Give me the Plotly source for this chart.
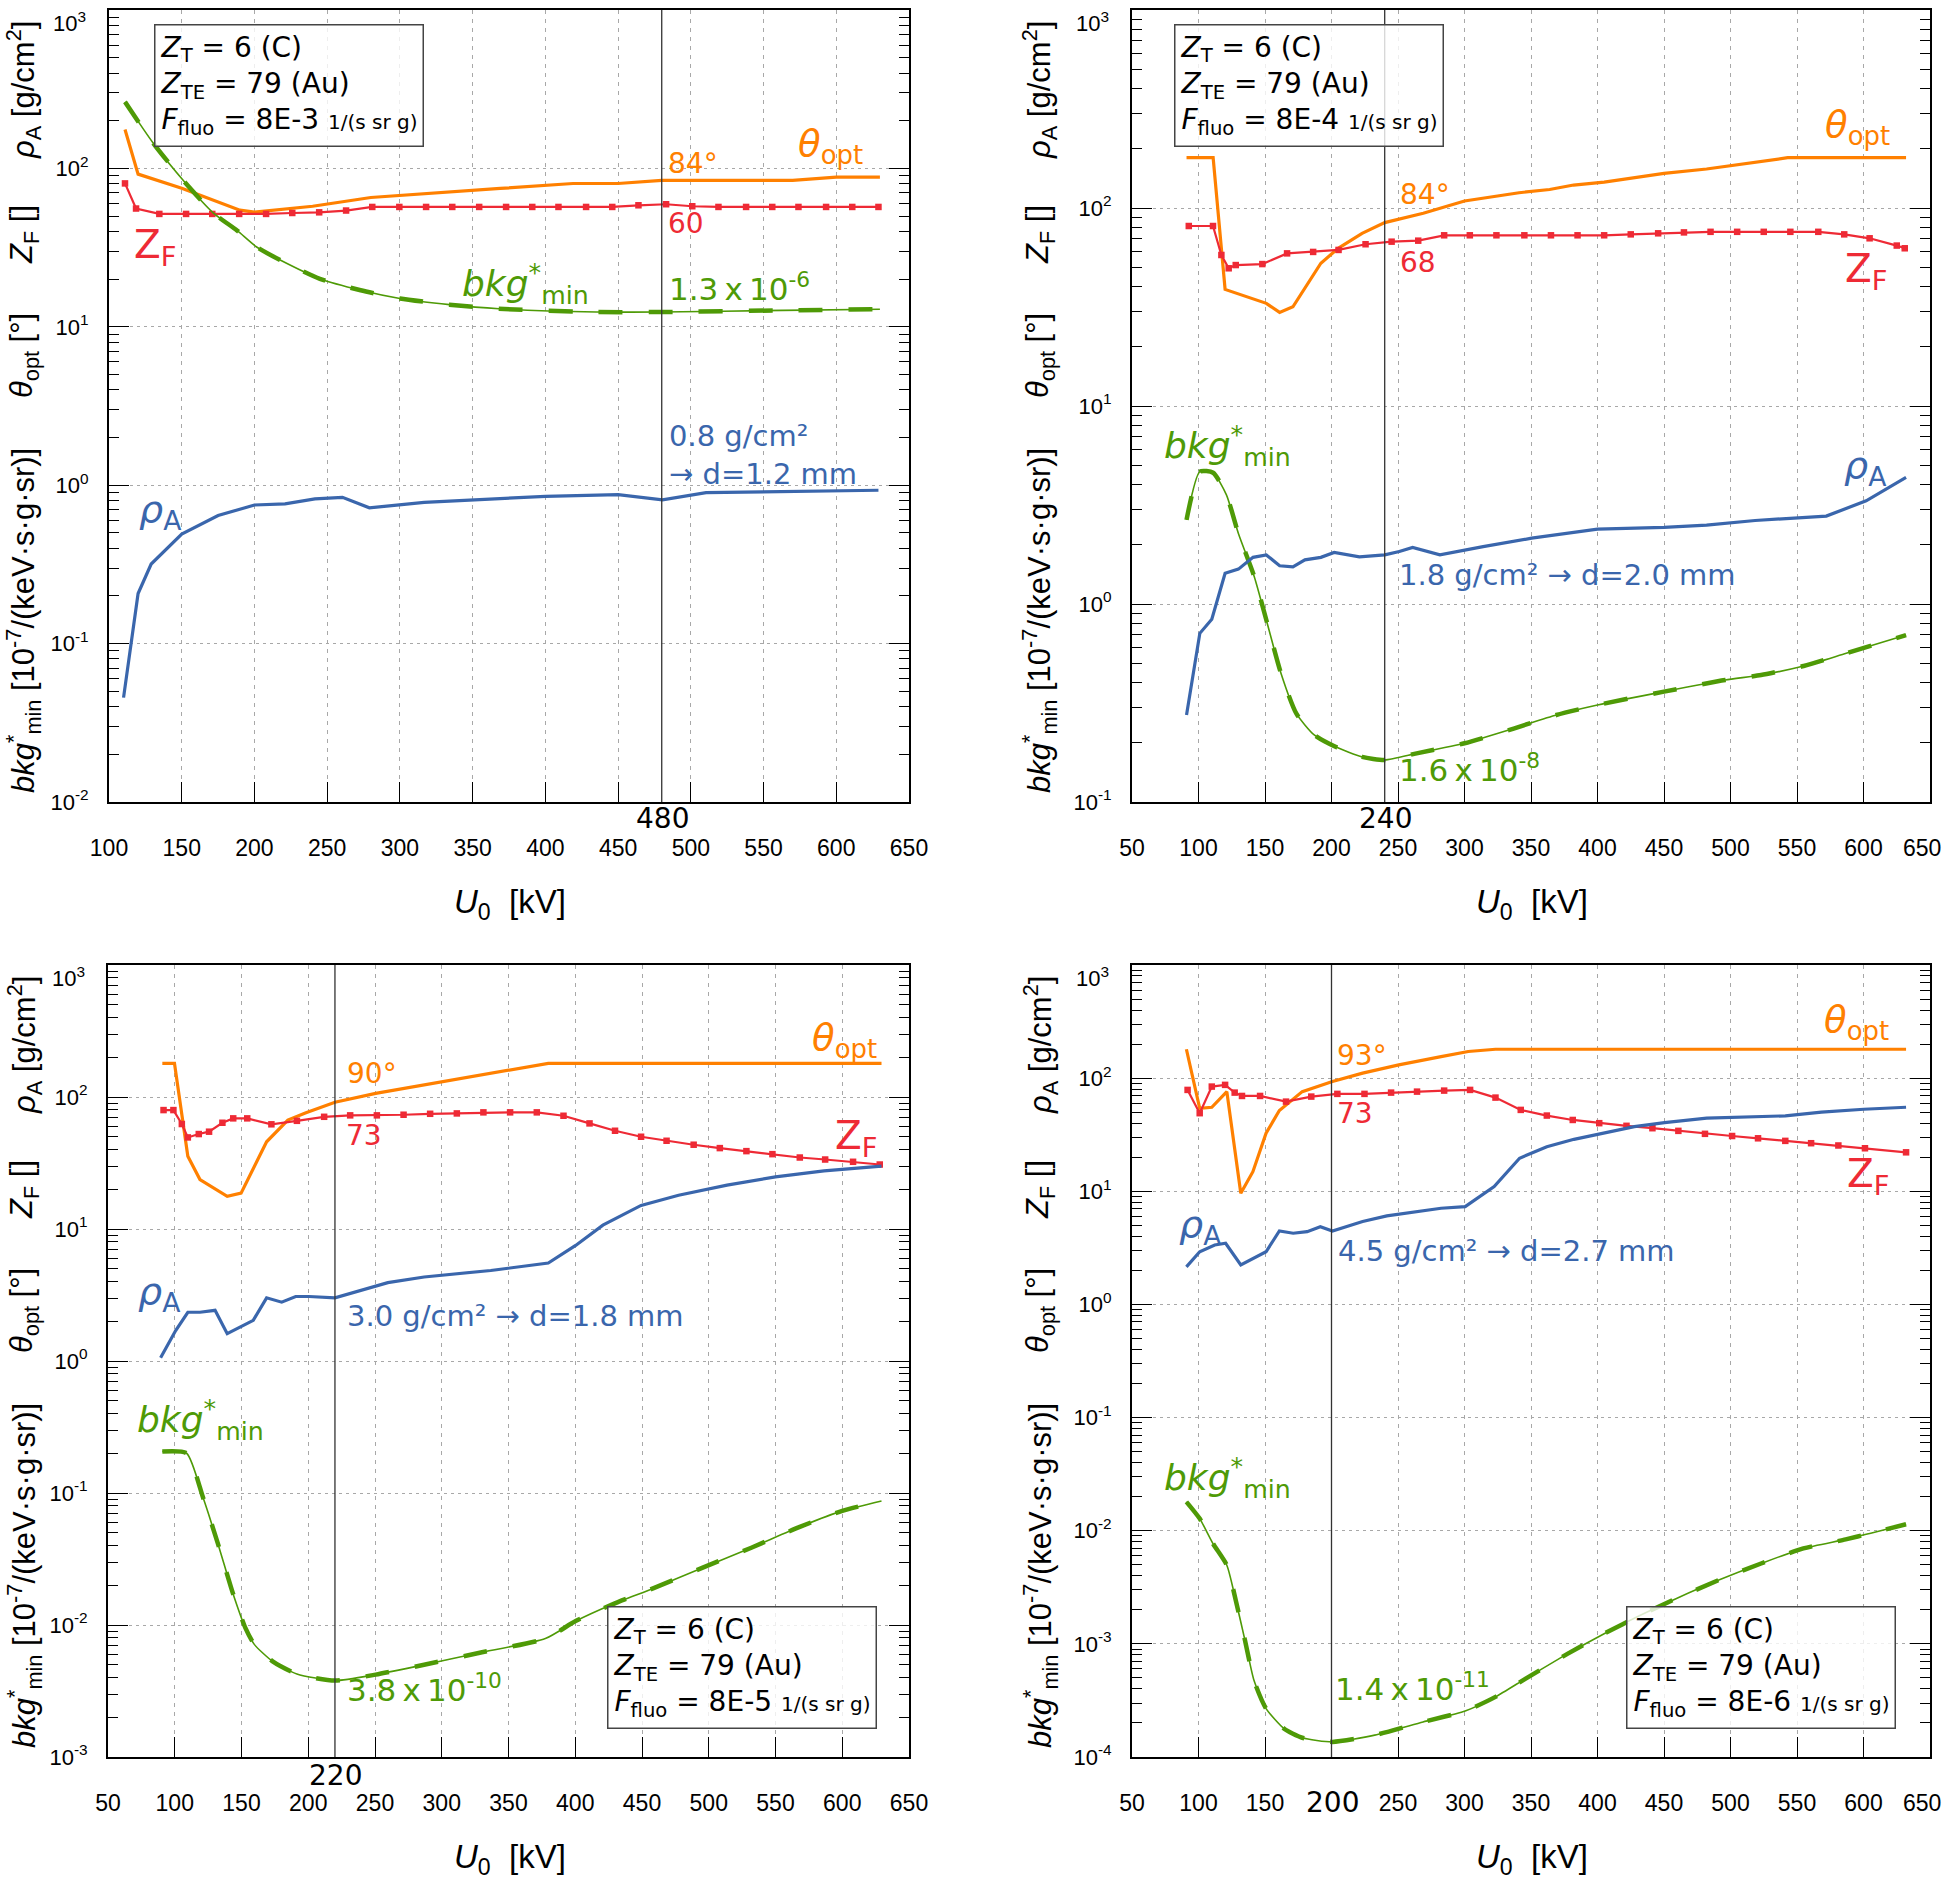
import plotly.graph_objects as go

W, H = 1947, 1883

# ---------------- data ----------------
# Panel 1 : Ffluo = 8E-3
p1_theta_U = [111, 120, 150, 190, 200, 240, 280, 334, 369, 419, 450, 480, 570, 600, 630]
p1_theta = [176, 92, 75, 54.5, 53, 57.7, 65.5, 70.5, 74.7, 80.3, 80.3, 84, 84, 88, 88]
p1_zf_U = [111, 118.6, 134.6, 153, 171, 189.5, 208, 226, 244.5, 263, 281, 299.6, 318, 336, 354.5,
           373, 391, 409, 428, 446, 464, 483, 501, 519, 538, 556, 574, 593, 611, 629]
p1_zf = [80.4, 55.8, 51.6, 51.6, 51.6, 51.6, 51.6, 52.3, 52.8, 54.2, 57.1, 57.1, 57.1, 57.1, 57.1,
         57.1, 57.1, 57.1, 57.1, 57.1, 58.5, 59.4, 57.7, 57.1, 57.1, 57.1, 57.1, 57.1, 57.1, 57.1]
p1_bkg_U = [111, 130.5, 152, 172, 188, 201.5, 218, 245, 273, 300, 334, 368, 435, 480, 563, 630]
p1_bkg = [263, 144, 82, 52, 40.6, 31.9, 26.3, 20.1, 17, 15.1, 13.8, 13.0, 12.4, 12.4, 12.7, 12.9]
p1_rho_U = [110, 120, 129, 150, 175, 200, 221, 241.6, 260.5, 279, 316.7, 358.4, 400, 450, 480.5, 510.5, 629]
p1_rho = [0.0456, 0.207, 0.318, 0.492, 0.643, 0.75, 0.762, 0.819, 0.839, 0.72, 0.78, 0.819, 0.851,
          0.873, 0.807, 0.898, 0.929]

# Panel 2 : Ffluo = 8E-4
p2_theta_U = [91, 111, 120, 151, 161, 171, 192, 205, 223, 240, 269, 300, 341, 364, 382, 405, 450, 482, 543, 632]
p2_theta = [179.5, 179.5, 38.8, 33, 29.7, 31.7, 52.6, 62.6, 74.5, 84.4, 94, 108.5, 119.4, 124, 130.6,
            135, 149.6, 157.4, 179.5, 179.5]
p2_zf_U = [92.7, 110.9, 117.2, 122.7, 128, 148, 166.6, 186.2, 205.3, 225.6, 245.2, 265.2, 284.7, 304,
           324, 345, 365, 385, 405, 425, 445.6, 465, 485, 505, 525, 545, 566, 585.5, 604.6, 625, 631]
p2_zf = [81.1, 81.1, 57.9, 49.6, 51.5, 52.1, 59, 60, 61.4, 65.6, 67.6, 68.4, 72.8, 72.8, 72.8, 72.8,
         72.8, 72.8, 72.8, 73.6, 74.5, 75.3, 75.8, 75.8, 75.8, 75.8, 75.8, 73.6, 70.3, 64.6, 62.6]
p2_bkg_U = [91, 101, 111, 121, 130, 142, 151, 162, 173.5, 187, 203, 223, 240, 264, 300, 337, 369, 400,
            450, 496, 523, 555, 587, 632]
p2_bkg = [2.66, 4.66, 4.6, 3.56, 2.27, 1.37, 0.83, 0.447, 0.28, 0.218, 0.19, 0.169, 0.163, 0.176,
          0.198, 0.235, 0.275, 0.309, 0.361, 0.413, 0.438, 0.486, 0.564, 0.697]
p2_rho_U = [91, 101, 110, 120, 130, 141, 151, 161, 171, 180, 192, 202, 221, 240, 251, 261, 281.5, 314,
            350.5, 400, 450, 482, 518.5, 572, 602, 632]
p2_rho = [0.275, 0.711, 0.838, 1.43, 1.5, 1.72, 1.77, 1.56, 1.54, 1.67, 1.72, 1.82, 1.73, 1.77, 1.84,
          1.93, 1.77, 1.95, 2.15, 2.39, 2.44, 2.5, 2.64, 2.78, 3.32, 4.36]

# Panel 3 : Ffluo = 8E-5
p3_theta_U = [90.7, 99.8, 109.8, 118.9, 139.3, 149.7, 168.8, 184.7, 198.3, 220, 250.5, 286.8, 332.2,
              354.9, 379.8, 629.4]
p3_theta = [180, 180, 35.6, 23.7, 17.7, 18.7, 45.8, 66.8, 76, 91.2, 106.6, 123, 148.6, 162, 180, 180]
p3_zf_U = [91.6, 99, 105.3, 109.8, 118, 125.7, 135.7, 143.8, 154.3, 172.4, 191.5, 211.9, 231.4, 251.4,
           271.4, 291.3, 311.3, 331.2, 351.2, 371.2, 391.2, 410.7, 429.8, 449.3, 468.4, 488.7, 508.3,
           528.2, 547.7, 568.2, 587.2, 608.1, 628.1]
p3_zf = [79.6, 79.6, 62.4, 49.4, 52.4, 54.6, 63.8, 68.9, 68.9, 62.1, 66, 70.8, 72.6, 72.6, 73.4, 74.6,
         75.1, 76.5, 76.5, 76.5, 72.1, 63.1, 55.5, 50, 46.6, 43.5, 41, 38.9, 36.9, 34.8, 33.6, 32.3, 30.8]
p3_bkg_U = [90.7, 108.9, 121.2, 132.5, 143.8, 152.9, 159.7, 173.3, 191.5, 220, 250.5, 286.8, 327.6,
            377.6, 400.3, 427.5, 459.2, 495.5, 531.9, 568.2, 600, 629.4]
p3_bkg = [0.206, 0.2, 0.0923, 0.0408, 0.0171, 0.0095, 0.0071, 0.0053, 0.00426, 0.00379, 0.00421,
          0.005, 0.00614, 0.00789, 0.0107, 0.0143, 0.0191, 0.0272, 0.0385, 0.0554, 0.0732, 0.0871]
p3_rho_U = [89.4, 100.7, 109.8, 118.9, 130.2, 139.3, 158.8, 168.8, 180.1, 190.6, 200.6, 220, 259.6,
            286.8, 336.7, 359.4, 379.8, 400.3, 420.7, 449.3, 477.4, 513.7, 550, 586.3, 629.4]
p3_rho = [1.06, 1.7, 2.34, 2.34, 2.42, 1.61, 2.03, 3.01, 2.79, 3.08, 3.08, 3.01, 3.92, 4.33, 4.85,
          5.2, 5.52, 7.51, 10.7, 15.1, 18, 21.5, 24.8, 27.6, 29.9]

# Panel 4 : Ffluo = 8E-6
p4_theta_U = [90.9, 100.9, 110, 121.3, 131.8, 140.9, 150.8, 160.8, 178, 200.7, 223.4, 250.6, 282.4,
              302.8, 323.3, 632]
p4_theta = [180, 54.2, 55.3, 76, 9.6, 14.9, 32.6, 51.7, 76, 93.3, 110.7, 131, 155, 172, 180, 180]
p4_zf_U = [91.8, 100.9, 110, 120, 127.2, 132.7, 146.3, 165.8, 184.8, 204.4, 224.8, 244.8, 264.3,
           284.7, 304.2, 323.3, 342.3, 361.9, 381.4, 401.3, 421.8, 441.3, 460.8, 480.8, 501.2, 520.7,
           541.2, 560.6, 581.1, 601.1, 632]
p4_zf = [78.7, 49, 84.2, 87.2, 74.5, 69.6, 69.6, 62, 68.7, 72.6, 72.6, 74.5, 76, 77.6, 78.7, 67.3,
         52.4, 46.7, 42.7, 40, 37.9, 36.1, 34.2, 32.2, 30.8, 29.4, 27.9, 26.6, 25.4, 24, 22.1]
p4_bkg_U = [90.9, 100.9, 110.9, 121.3, 128, 134.9, 141.7, 150.8, 164.4, 178, 200.7, 232.5, 268.8,
            300.5, 323.3, 346, 377.7, 405, 432.2, 459.4, 491.2, 523, 554.8, 586.6, 604.7, 632]
p4_bkg = [0.018, 0.0128, 0.0077, 0.00495, 0.00243, 0.00108, 0.000476, 0.000268, 0.000178, 0.000148,
          0.000136, 0.000156, 0.000204, 0.000255, 0.00034, 0.000493, 0.00082, 0.00123, 0.00179,
          0.00252, 0.00366, 0.00513, 0.00697, 0.00838, 0.00946, 0.0114]
p4_rho_U = [90.9, 100.9, 112.2, 120.4, 131.8, 150.8, 160.8, 171.2, 181.7, 191.6, 200.7, 223.4, 241.6,
            259.7, 282.4, 300.5, 322.3, 341.4, 361.9, 382.3, 405, 427.7, 450.4, 482.1, 541.2, 568.4,
            600.2, 632]
p4_rho = [2.15, 2.92, 3.35, 3.47, 2.23, 2.92, 4.46, 4.26, 4.4, 4.87, 4.46, 5.4, 6.06, 6.47, 7.08,
          7.32, 11, 19.6, 24.8, 28.8, 33, 37.3, 40.5, 44.3, 46.4, 50, 53.1, 55.3]

ffluo = ["8E-3", "8E-4", "8E-5", "8E-6"]
u_opt = [480, 240, 220, 200]
theta_opt_lbl = ["84°", "84°", "90°", "93°"]
zf_opt_lbl = ["60", "68", "73", "73"]
rho_opt_lbl = ["0.8 g/cm²<br>→ d=1.2 mm", "1.8 g/cm² → d=2.0 mm", "3.0 g/cm² → d=1.8 mm",
               "4.5 g/cm² → d=2.7 mm"]
bkg_opt_lbl = ["1.3\u2009x\u200910<sup>-6</sup>", "1.6\u2009x\u200910<sup>-8</sup>",
               "3.8\u2009x\u200910<sup>-10</sup>", "1.4\u2009x\u200910<sup>-11</sup>"]
x_ticks_p1 = list(range(100, 651, 50))
x_ticks = list(range(50, 651, 50))

# ---------------- style ----------------
ORANGE = '#FF8000'
RED = '#EE2A35'
GREEN = '#4E9A06'
BLUE = '#3A66AC'
LBL = 'DejaVu Sans'
AX = 'Liberation Sans'

def px(x):
    return x / W

def py(y):
    return 1 - y / H

panels = [
    dict(xd=(109, 909), yd=(10, 802), xr=[100, 650], yr=(-2, 3), ticks=x_ticks_p1,
         data=(p1_theta_U, p1_theta, p1_zf_U, p1_zf, p1_bkg_U, p1_bkg, p1_rho_U, p1_rho)),
    dict(xd=(1132, 1930), yd=(10, 802), xr=[50, 650], yr=(-1, 3), ticks=x_ticks,
         data=(p2_theta_U, p2_theta, p2_zf_U, p2_zf, p2_bkg_U, p2_bkg, p2_rho_U, p2_rho)),
    dict(xd=(108, 909), yd=(965, 1757), xr=[50, 650], yr=(-3, 3), ticks=x_ticks,
         data=(p3_theta_U, p3_theta, p3_zf_U, p3_zf, p3_bkg_U, p3_bkg, p3_rho_U, p3_rho)),
    dict(xd=(1132, 1930), yd=(965, 1757), xr=[50, 650], yr=(-4, 3), ticks=x_ticks,
         data=(p4_theta_U, p4_theta, p4_zf_U, p4_zf, p4_bkg_U, p4_bkg, p4_rho_U, p4_rho)),
]

fig = go.Figure()
annotations = []
shapes = []

def ann(x, y, text, color='black', size=26, family=LBL, xanchor='center', yanchor='middle', **kw):
    d = dict(x=px(x), y=py(y), xref='paper', yref='paper', text=text, showarrow=False,
             font=dict(color=color, size=size, family=family), xanchor=xanchor, yanchor=yanchor)
    d.update(kw)
    annotations.append(d)

for i, p in enumerate(panels):
    n = '' if i == 0 else str(i + 1)
    xa, ya = 'x' + n, 'y' + n
    tU, tV, zU, zV, bU, bV, rU, rV = p['data']
    fig.add_trace(go.Scatter(x=tU, y=tV, xaxis=xa, yaxis=ya, mode='lines',
                             line=dict(color=ORANGE, width=3.2)))
    fig.add_trace(go.Scatter(x=zU, y=zV, xaxis=xa, yaxis=ya, mode='lines+markers',
                             line=dict(color=RED, width=2.2),
                             marker=dict(symbol='square', size=6.5, color=RED)))
    fig.add_trace(go.Scatter(x=bU, y=bV, xaxis=xa, yaxis=ya, mode='lines',
                             line=dict(color=GREEN, width=1.6, shape='spline', smoothing=0.6)))
    fig.add_trace(go.Scatter(x=bU, y=bV, xaxis=xa, yaxis=ya, mode='lines',
                             line=dict(color=GREEN, width=4.5, dash='24px,26px', shape='spline', smoothing=0.6)))
    fig.add_trace(go.Scatter(x=rU, y=rV, xaxis=xa, yaxis=ya, mode='lines',
                             line=dict(color=BLUE, width=3.2)))

    lo, hi = p['yr']
    major = [10.0 ** k for k in range(lo, hi + 1)]
    minor = [m * 10.0 ** k for k in range(lo, hi) for m in range(2, 10)]
    # the top decade label and the right-most x label are set as texts nudged inside the figure
    yticktext = [f'10<sup>{k}</sup>' if k < hi else '' for k in range(lo, hi + 1)]
    ticktext = [str(t) for t in p['ticks']]
    if i == 3:
        ticktext = ['' if t == 200 else str(t) for t in p['ticks']]
    if i in (1, 3):
        ticktext[-1] = ''
    fig.update_layout(**{
        'xaxis' + n: dict(domain=[px(p['xd'][0]), px(p['xd'][1])], range=p['xr'], anchor=ya,
                          automargin=False, ticklabeloverflow='allow',
                          tickmode='array', tickvals=p['ticks'], ticktext=ticktext,
                          ticks='inside', ticklen=20, tickwidth=1.4, tickcolor='black',
                          showline=True, linecolor='black', linewidth=2, mirror=True,
                          showgrid=True, gridcolor='#A8A8A8', gridwidth=1, griddash='4px,5px',
                          zeroline=False, ticklabelstandoff=24,
                          tickfont=dict(family=AX, size=23, color='black')),
        'yaxis' + n: dict(domain=[py(p['yd'][1]), py(p['yd'][0])], type='log', range=[lo, hi],
                          anchor=xa, automargin=False, ticklabeloverflow='allow',
                          tickmode='array', tickvals=major, ticktext=yticktext,
                          ticks='inside', ticklen=20, tickwidth=1.4, tickcolor='black',
                          minor=dict(tickmode='array', tickvals=minor, ticks='inside', ticklen=10,
                                     tickwidth=1.4, tickcolor='black', showgrid=False),
                          showline=True, linecolor='black', linewidth=2, mirror='allticks',
                          showgrid=True, gridcolor='#A8A8A8', gridwidth=1, griddash='3px,4px',
                          zeroline=False, ticklabelstandoff=14,
                          tickfont=dict(family=AX, size=22, color='black')),
    })
    shapes.append(dict(type='line', xref=xa, yref=ya + ' domain', x0=u_opt[i], x1=u_opt[i],
                       y0=0, y1=1, line=dict(color='#333333', width=1.3), layer='above'))

    x0, x1 = p['xd']
    top, bot = p['yd']
    # top decade label and right-most x label
    ann(x0 - 21, top + 12, f'10<sup>{hi}</sup>', size=22, family=AX, xanchor='right')
    if i in (1, 3):
        ann(x1 - 8, bot + 46, str(p['ticks'][-1]), size=23, family=AX)

    # axis titles
    ann((x0 + x1) / 2 + 1, top + 894, '<i>U</i><sub>0</sub>  [kV]', size=33, family=AX)
    tx = 24 if i in (0, 2) else 1040
    ann(tx, top + 80, '<i>ρ</i><sub>A</sub> [g/cm<sup>2</sup>]', size=31, family=AX, textangle=-90)
    ann(tx, top + 225, '<i>Z</i><sub>F</sub> []', size=31, family=AX, textangle=-90)
    ann(tx, top + 346, '<i>θ</i><sub>opt</sub> [°]', size=31, family=AX, textangle=-90)
    ann(tx, top + 611, '<i>bkg</i><sup>*</sup><sub>min</sub> [10<sup>-7</sup>/(keV·s·g·sr)]',
        size=31, family=AX, textangle=-90)

    # info box
    box = ('<i>Z</i><sub>T</sub> = 6 (C)<br><i>Z</i><sub>TE</sub> = 79 (Au)<br>'
           f'<i>F</i><sub>fluo</sub> = {ffluo[i]} <span style="font-size:20px">1/(s sr g)</span>')
    bpos = [(154, 24), (1174, 24), (607, 1606), (1626, 1606)][i]
    ann(bpos[0], bpos[1], box, size=28, xanchor='left', yanchor='top', align='left',
        bordercolor='#444444', borderwidth=1.5, borderpad=5, bgcolor='rgba(255,255,255,0.8)')

# curve labels (positions in pixels)
theta_pos = [(830, 146), (1857, 127), (844, 1040), (1856, 1022)]
thopt_pos = [(693, 163), (1425, 195), (372, 1073), (1362, 1055)]
zf_pos = [(155, 247), (1866, 271), (856, 1138), (1868, 1176)]
zfopt_pos = [(686, 223), (1418, 262), (364, 1135), (1355, 1113)]
rho_pos = [(160, 512), (1865, 467), (159, 1293), (1200, 1226)]
rhoopt_pos = [(667, 455), (1397, 575), (345, 1316), (1336, 1251)]
bkg_pos = [(525, 284), (1227, 446), (200, 1420), (1227, 1478)]
bkgopt_pos = [(667, 287), (1397, 768), (345, 1688), (1333, 1687)]
uopt_pos = [(662, 819), (1385, 819), (335, 1775), (1332, 1802)]

for i in range(4):
    ann(*theta_pos[i], '<i>θ</i><sub>opt</sub>', color=ORANGE, size=37)
    ann(*thopt_pos[i], theta_opt_lbl[i], color=ORANGE, size=28)
    ann(*zf_pos[i], 'Z<sub>F</sub>', color=RED, size=39)
    ann(*zfopt_pos[i], zf_opt_lbl[i], color=RED, size=28)
    ann(*rho_pos[i], '<i>ρ</i><sub>A</sub>', color=BLUE, size=38)
    ann(*rhoopt_pos[i], rho_opt_lbl[i], color=BLUE, size=29, xanchor='left', align='left')
    ann(*bkg_pos[i], '<i>bkg</i><sup>*</sup><sub>min</sub>', color=GREEN, size=36)
    ann(*bkgopt_pos[i], bkg_opt_lbl[i], color=GREEN, size=31, xanchor='left')
    ann(*uopt_pos[i], str(u_opt[i]), size=28)

fig.update_layout(width=W, height=H, margin=dict(l=0, r=0, t=0, b=0, autoexpand=False),
                  paper_bgcolor='white', plot_bgcolor='white', showlegend=False,
                  annotations=annotations, shapes=shapes)
fig.write_html('out.html')
